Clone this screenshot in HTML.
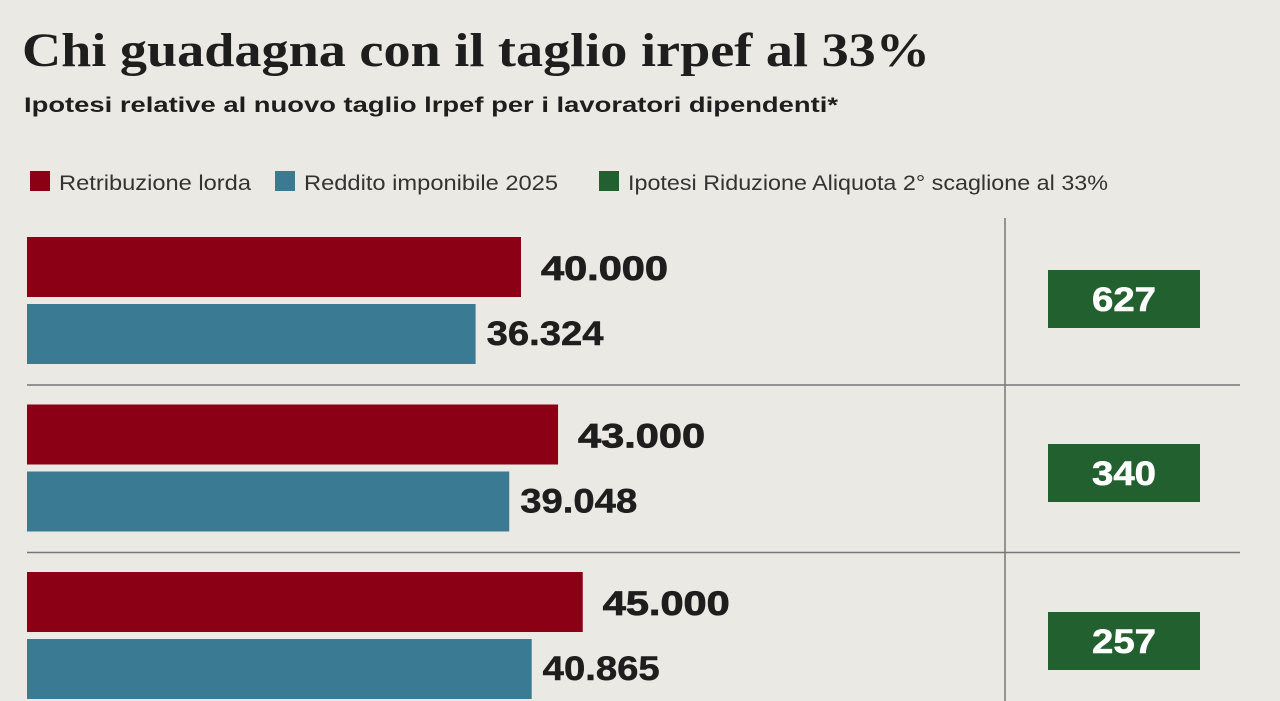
<!DOCTYPE html>
<html><head><meta charset="utf-8"><style>
body{margin:0;width:1280px;height:701px;overflow:hidden;background:#ebe9e3;font-family:"Liberation Sans",sans-serif;}
svg{position:absolute;left:0;top:0}
</style></head><body>
<svg width="1280" height="701">
<text x="22" y="66" font-family="Liberation Serif,serif" font-weight="bold" font-size="48" fill="#1e1e1e" textLength="908" lengthAdjust="spacingAndGlyphs">Chi guadagna con il taglio irpef al 33%</text>
<text x="24" y="112" font-weight="bold" font-size="21" fill="#1e1e1e" textLength="814" lengthAdjust="spacingAndGlyphs">Ipotesi relative al nuovo taglio lrpef per i lavoratori dipendenti*</text>
<g>
<rect x="30" y="171" width="20" height="20" fill="#8c0016"/>
<text x="59" y="190" font-size="21" fill="#333" textLength="192" lengthAdjust="spacingAndGlyphs">Retribuzione lorda</text>
<rect x="275" y="171" width="20" height="20" fill="#3a7b93"/>
<text x="304" y="190" font-size="21" fill="#333" textLength="254" lengthAdjust="spacingAndGlyphs">Reddito imponibile 2025</text>
<rect x="599" y="171" width="20" height="20" fill="#23602f"/>
<text x="628" y="190" font-size="21" fill="#333" textLength="480" lengthAdjust="spacingAndGlyphs">Ipotesi Riduzione Aliquota 2° scaglione al 33%</text>
</g>
<line x1="1005" y1="218" x2="1005" y2="701" stroke="#777" stroke-width="1.5"/>
<g id="marks"></g>
</svg>
<script>
const lorda=[40000,43000,45000];
const imponibile=[36324,39048,40865];
const risparmio=[627,340,257];
const ns="http://www.w3.org/2000/svg";
const g=document.getElementById('marks');
const x0=27, pxPer=494/40000;
const xs=v=>v*pxPer;
const rowY=i=>237+i*167.5;
const fmt=v=>v.toLocaleString('de-DE');
function mk(t,a){const e=document.createElementNS(ns,t);for(const k in a)e.setAttribute(k,a[k]);g.appendChild(e);return e;}
lorda.forEach((v,i)=>{
 const y=rowY(i);
 let r=mk('rect',{x:x0,y:y,width:xs(v),height:60,fill:'#8c0016'});
 
 
 let t=mk('text',{x:x0+xs(v)+20,y:y+43,'font-size':34,'font-weight':'bold',fill:'#1e1e1e',stroke:'#1e1e1e','stroke-width':0.8,textLength:127,lengthAdjust:'spacingAndGlyphs'});t.textContent=fmt(v);
 
 
 const b=imponibile[i];
 r=mk('rect',{x:x0,y:y+67,width:xs(b),height:60,fill:'#3a7b93'});
 
 
 t=mk('text',{x:x0+xs(b)+11,y:y+108,'font-size':34,'font-weight':'bold',fill:'#1e1e1e',stroke:'#1e1e1e','stroke-width':0.5,textLength:117,lengthAdjust:'spacingAndGlyphs'});t.textContent=fmt(b);
 
 
 const gy=[270,444,612][i];
 r=mk('rect',{x:1048,y:gy,width:152,height:58,fill:'#23602f'});
 
 
 t=mk('text',{x:1124,y:gy+41,'font-size':34,'font-weight':'bold',fill:'#fff',stroke:'#fff','stroke-width':0.6,'text-anchor':'middle',textLength:64,lengthAdjust:'spacingAndGlyphs'});t.textContent=fmt(risparmio[i]);
 
 
 if(i<lorda.length-1){
  const l=mk('line',{x1:27,x2:1240,y1:y+148,y2:y+148,stroke:'#777','stroke-width':1.5});
  
  
 }
});
</script>
</body></html>
